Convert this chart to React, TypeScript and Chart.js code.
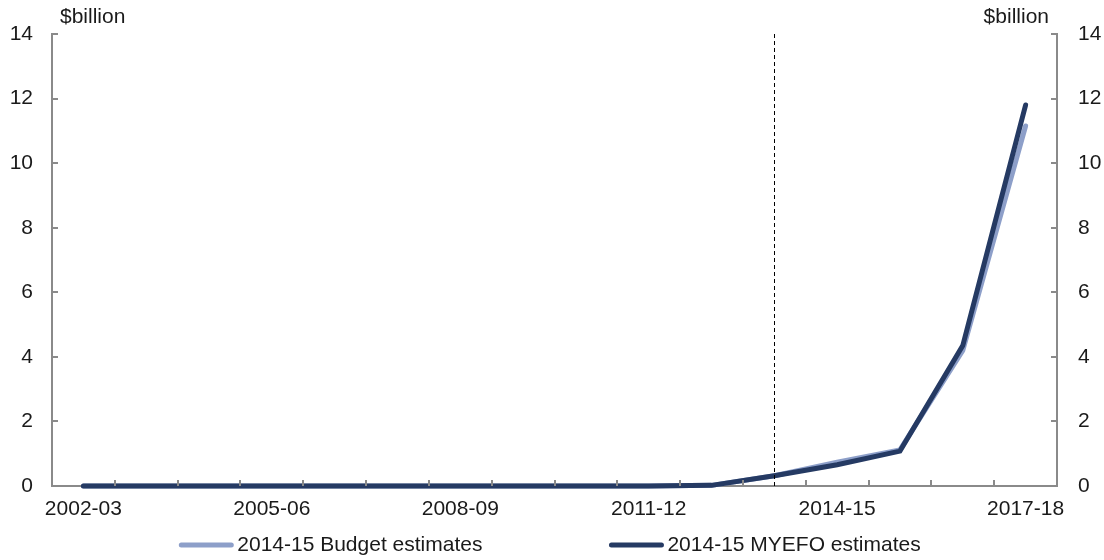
import React, { useEffect, useRef } from "react";
import { Chart, registerables } from "chart.js";

Chart.register(...registerables);

const categories = [
  "2002-03", "2003-04", "2004-05", "2005-06", "2006-07", "2007-08", "2008-09", "2009-10",
  "2010-11", "2011-12", "2012-13", "2013-14", "2014-15", "2015-16", "2016-17", "2017-18",
];
const budgetEstimates = [0, 0, 0, 0, 0, 0, 0, 0, 0, 0, 0.02, 0.32, 0.74, 1.12, 4.2, 11.15];
const myefoEstimates = [0, 0, 0, 0, 0, 0, 0, 0, 0, 0, 0.02, 0.32, 0.66, 1.08, 4.35, 11.8];
const shownTickLabels = ["2002-03", "2005-06", "2008-09", "2011-12", "2014-15", "2017-18"];
const dividerCategory = "2013-14";
const unitLabel = "$billion";

const FONT = "'Liberation Sans', Arial, sans-serif";
const FONT_SIZE = 21;
const TEXT = "#1a1a1a";
const AXIS = "#8a8a8a";
const LINE_W = 5;

const axesAndLegend = {
  id: "axesAndLegend",
  afterDatasetsDraw(chart: any) {
    const { ctx, chartArea, scales } = chart;
    const x = scales.x;
    const y = scales.y;
    ctx.save();

    // inward tick marks on both value axes
    ctx.strokeStyle = AXIS;
    ctx.lineWidth = 2;
    for (const t of y.ticks) {
      const py = Math.round(y.getPixelForValue(t.value));
      ctx.beginPath();
      ctx.moveTo(chartArea.left, py);
      ctx.lineTo(chartArea.left + 6, py);
      ctx.moveTo(chartArea.right, py);
      ctx.lineTo(chartArea.right - 6, py);
      ctx.stroke();
    }
    // inward tick marks between categories
    for (let i = 1; i < categories.length; i++) {
      const px = Math.round((x.getPixelForValue(i - 1) + x.getPixelForValue(i)) / 2);
      ctx.beginPath();
      ctx.moveTo(px, chartArea.bottom);
      ctx.lineTo(px, chartArea.bottom - 6);
      ctx.stroke();
    }

    // dashed divider
    const dx = Math.round(x.getPixelForValue(categories.indexOf(dividerCategory))) + 0.5;
    ctx.strokeStyle = "#000";
    ctx.lineWidth = 1;
    ctx.setLineDash([4, 3]);
    ctx.beginPath();
    ctx.moveTo(dx, chartArea.top);
    ctx.lineTo(dx, chartArea.bottom);
    ctx.stroke();
    ctx.setLineDash([]);
    ctx.restore();
  },
  afterDraw(chart: any) {
    const { ctx, chartArea } = chart;
    ctx.save();
    ctx.font = `${FONT_SIZE}px ${FONT}`;
    ctx.fillStyle = TEXT;
    ctx.textBaseline = "middle";
    ctx.textAlign = "left";
    ctx.fillText(unitLabel, chartArea.left + 8, 17);
    ctx.textAlign = "right";
    ctx.fillText(unitLabel, chartArea.right - 8, 17);

    // legend
    const sample = 54;
    const gapText = 4;
    const gapItems = 127;
    const ds = chart.data.datasets;
    const widths = ds.map((d: any) => ctx.measureText(d.label).width);
    const total = widths.reduce((a: number, w: number) => a + sample + gapText + w, 0) + gapItems * (ds.length - 1);
    let cx = chart.width / 2 - total / 2 - 2;
    const ly = 545;
    ctx.textAlign = "left";
    ds.forEach((d: any, i: number) => {
      ctx.strokeStyle = d.borderColor;
      ctx.lineWidth = LINE_W;
      ctx.lineCap = "round";
      ctx.beginPath();
      ctx.moveTo(cx + 2, ly);
      ctx.lineTo(cx + sample - 2, ly);
      ctx.stroke();
      ctx.fillText(d.label, cx + sample + gapText, ly);
      cx += sample + gapText + widths[i] + gapItems;
    });
    ctx.restore();
  },
};

export default function App() {
  const canvasRef = useRef<HTMLCanvasElement | null>(null);

  useEffect(() => {
    if (!canvasRef.current) return;
    const tickFont = { family: FONT, size: FONT_SIZE };
    const chart = new Chart(canvasRef.current, {
      type: "line",
      data: {
        labels: categories,
        datasets: [
          {
            label: "2014-15 Budget estimates",
            data: budgetEstimates,
            borderColor: "#8d9fc9",
            backgroundColor: "#8d9fc9",
            borderWidth: LINE_W,
            pointRadius: 0,
            tension: 0,
            clip: false,
            borderCapStyle: "round",
            order: 2,
          },
          {
            label: "2014-15 MYEFO estimates",
            data: myefoEstimates,
            borderColor: "#253a63",
            backgroundColor: "#253a63",
            borderWidth: LINE_W,
            pointRadius: 0,
            tension: 0,
            clip: false,
            borderCapStyle: "round",
            order: 1,
          },
        ],
      },
      options: {
        animation: false,
        responsive: true,
        maintainAspectRatio: false,
        layout: { padding: { left: 0, right: 0, top: 34, bottom: 38 } },
        plugins: { legend: { display: false }, tooltip: { enabled: false } },
        scales: {
          x: {
            offset: true,
            grid: { display: false, drawTicks: false },
            border: { display: true, color: AXIS, width: 2 },
            ticks: {
              autoSkip: false,
              maxRotation: 0,
              padding: 11,
              color: TEXT,
              font: tickFont,
              callback: (_v: any, i: number) =>
                shownTickLabels.includes(categories[i]) ? categories[i] : "",
            },
            afterFit: (s: any) => {
              s.height = 36;
            },
          },
          y: {
            position: "left",
            min: 0,
            max: 14,
            grid: { display: false, drawTicks: false },
            border: { display: true, color: AXIS, width: 2 },
            ticks: { stepSize: 2, padding: 19, color: TEXT, font: tickFont },
            afterFit: (s: any) => {
              s.width = 52;
            },
          },
          y2: {
            position: "right",
            min: 0,
            max: 14,
            grid: { display: false, drawTicks: false },
            border: { display: true, color: AXIS, width: 2 },
            ticks: { stepSize: 2, padding: 21, color: TEXT, font: tickFont },
            afterFit: (s: any) => {
              s.width = 47;
            },
          },
        },
      },
      plugins: [axesAndLegend],
    });
    return () => chart.destroy();
  }, []);

  return (
    <div style={{ position: "absolute", left: 0, top: 0, width: 1104, height: 560, background: "#fff" }}>
      <canvas ref={canvasRef} />
    </div>
  );
}
